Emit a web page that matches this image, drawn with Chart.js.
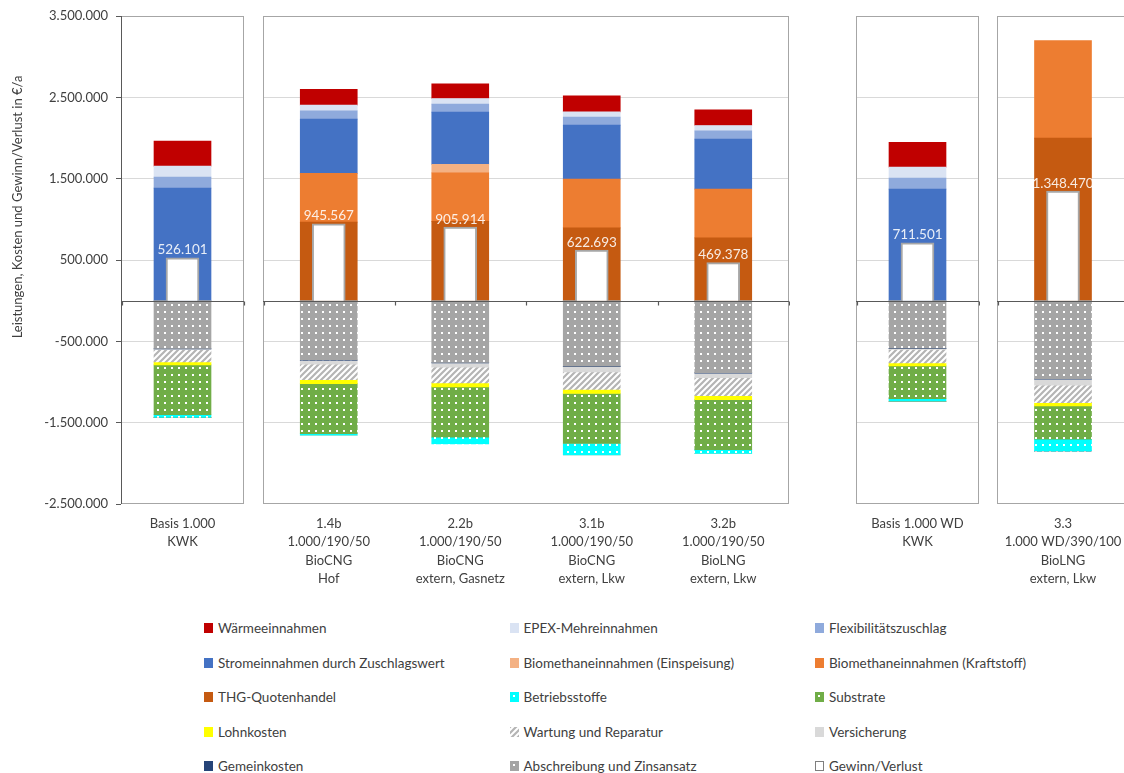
<!DOCTYPE html>
<html lang="de">
<head>
<meta charset="utf-8">
<title>Leistungen, Kosten und Gewinn/Verlust</title>
<script src="https://cdn.jsdelivr.net/npm/chart.js@4.4.1/dist/chart.umd.min.js"></script>
<style>
  html, body { margin: 0; padding: 0; background: #fff; overflow: hidden; width: 1124px; height: 773px; position: relative; }
  canvas.panel { position: absolute; top: 0; }
  .item { position: absolute; display: flex; align-items: center; white-space: nowrap;
          font: 13.5px Lato, sans-serif; color: #404040; height: 16px; }
  .item canvas { margin-right: 5px; }
</style>
</head>
<body>
<canvas id="p0" class="panel" width="246" height="610" style="left:0px"></canvas>
<canvas id="p1" class="panel" width="527" height="610" style="left:263px"></canvas>
<canvas id="p2" class="panel" width="124" height="610" style="left:856px"></canvas>
<canvas id="p3" class="panel" width="133" height="610" style="left:997px"></canvas>
<div id="legend"></div>
<script>
// Szenarien
const categories = [
    ['Basis 1.000', 'KWK'],
    ['1.4b', '1.000/190/50', 'BioCNG', 'Hof'],
    ['2.2b', '1.000/190/50', 'BioCNG', 'extern, Gasnetz'],
    ['3.1b', '1.000/190/50', 'BioCNG', 'extern, Lkw'],
    ['3.2b', '1.000/190/50', 'BioLNG', 'extern, Lkw'],
    ['Basis 1.000 WD', 'KWK'],
    ['3.3', '1.000 WD/390/100', 'BioLNG', 'extern, Lkw']
];
// welche Szenarien in welchem Feld stehen
const groups = [[0], [1, 2, 3, 4], [5], [6]];

const yTicks = [-2500000, -1500000, -500000, 500000, 1500000, 2500000, 3500000];

// Leistungen (€/a)
const waerme       = [307000, 193000, 180000, 197000, 192000, 307000, 0];
const epex         = [135000, 70000, 70000, 66000, 66000, 135000, 0];
const flex         = [135000, 102000, 98000, 98000, 102000, 135000, 0];
const strom        = [1384000, 668000, 643000, 664000, 615000, 1371000, 0];
const bioEinspeis  = [0, 0, 103000, 0, 0, 0, 0];
const bioKraft     = [0, 599000, 598000, 599000, 599000, 0, 1198000];
const thg          = [0, 966000, 974000, 895000, 772000, 0, 1999000];

// Kosten (€/a)
const abschreibung = [-588000, -730000, -760000, -805000, -885000, -585000, -960000];
const gemeinkosten = [-5000, -5000, -5000, -5000, -5000, -5000, -5000];
const versicherung = [-10000, -45000, -53000, -65000, -57000, -10000, -75000];
const wartung      = [-150000, -190000, -193000, -217000, -221000, -165000, -213000];
const lohn         = [-37000, -49000, -49000, -49000, -49000, -37000, -41000];
const substrate    = [-612000, -615000, -618000, -615000, -615000, -402000, -410000];
const betrieb      = [-33000, -20000, -82000, -140000, -45000, -33000, -145000];

// Gewinn/Verlust
const gewinn = [526101, 945567, 905914, 622693, 469378, 711501, 1348470];

const legendOrder = [
    'Wärmeeinnahmen', 'EPEX-Mehreinnahmen', 'Flexibilitätszuschlag',
    'Stromeinnahmen durch Zuschlagswert', 'Biomethaneinnahmen (Einspeisung)', 'Biomethaneinnahmen (Kraftstoff)',
    'THG-Quotenhandel', 'Betriebsstoffe', 'Substrate',
    'Lohnkosten', 'Wartung und Reparatur', 'Versicherung',
    'Gemeinkosten', 'Abschreibung und Zinsansatz', 'Gewinn/Verlust'
];

const FONT = 'Lato';
const TEXT = '#404040';

// Muster
function dotTile(base) {
    const t = document.createElement('canvas');
    t.width = 7; t.height = 7;
    const c = t.getContext('2d');
    c.fillStyle = base; c.fillRect(0, 0, 7, 7);
    c.fillStyle = '#ffffff'; c.fillRect(3, 3, 2, 2);
    return t;
}
function hatchTile() {
    const t = document.createElement('canvas');
    t.width = 6; t.height = 6;
    const c = t.getContext('2d');
    c.fillStyle = '#ffffff'; c.fillRect(0, 0, 6, 6);
    c.strokeStyle = '#b4b4b4'; c.lineWidth = 2.2;
    c.beginPath();
    c.moveTo(0, 6); c.lineTo(6, 0);
    c.moveTo(-1, 1); c.lineTo(1, -1);
    c.moveTo(5, 7); c.lineTo(7, 5);
    c.stroke();
    return t;
}
function paint(fill) {
    if (typeof fill === 'string') return fill;
    return ctx => ctx.chart.ctx.createPattern(fill, 'repeat');
}

// Stapelreihenfolge: Kosten von 0 nach unten, Leistungen von 0 nach oben
const series = [
    { label: 'Abschreibung und Zinsansatz', data: abschreibung, fill: dotTile('#a5a5a5') },
    { label: 'Gemeinkosten', data: gemeinkosten, fill: '#264478' },
    { label: 'Versicherung', data: versicherung, fill: '#d9d9d9' },
    { label: 'Wartung und Reparatur', data: wartung, fill: hatchTile() },
    { label: 'Lohnkosten', data: lohn, fill: '#ffff00' },
    { label: 'Substrate', data: substrate, fill: dotTile('#70ad47') },
    { label: 'Betriebsstoffe', data: betrieb, fill: dotTile('#00ffff') },
    { label: 'THG-Quotenhandel', data: thg, fill: '#c55a11' },
    { label: 'Biomethaneinnahmen (Kraftstoff)', data: bioKraft, fill: '#ed7d31' },
    { label: 'Biomethaneinnahmen (Einspeisung)', data: bioEinspeis, fill: '#f4b183' },
    { label: 'Stromeinnahmen durch Zuschlagswert', data: strom, fill: '#4472c4' },
    { label: 'Flexibilitätszuschlag', data: flex, fill: '#8faadc' },
    { label: 'EPEX-Mehreinnahmen', data: epex, fill: '#dae3f3' },
    { label: 'Wärmeeinnahmen', data: waerme, fill: '#c00000' }
];

const fmt = v => String(v).replace(/\B(?=(\d{3})+(?!\d))/g, '.');

const framePlugin = {
    id: 'frame',
    beforeDatasetsDraw(chart, args, opts) {
        const { ctx, chartArea: a } = chart;
        ctx.save();
        ctx.strokeStyle = '#a6a6a6';
        ctx.lineWidth = 1;
        ctx.strokeRect(Math.round(a.left) + 0.5, Math.round(a.top) + 0.5,
            Math.round(a.right - a.left) - 1, Math.round(a.bottom - a.top) - 1);
        if (opts.axis) {
            ctx.strokeStyle = '#595959';
            ctx.beginPath();
            ctx.moveTo(Math.round(a.left) + 0.5, a.top);
            ctx.lineTo(Math.round(a.left) + 0.5, a.bottom);
            ctx.stroke();
        }
        ctx.restore();
    },
    afterDatasetsDraw(chart, args, opts) {
        const { ctx, chartArea: a, scales } = chart;
        const y0 = Math.round(scales.y.getPixelForValue(0)) + 0.5;
        const x = scales.x;
        const n = x.ticks.length;
        ctx.save();
        ctx.strokeStyle = '#595959';
        ctx.lineWidth = 1.2;
        ctx.beginPath();
        ctx.moveTo(a.left, y0);
        ctx.lineTo(a.right, y0);
        for (let i = 0; i <= n; i++) {
            let px;
            if (i === 0) px = a.left + 0.5;
            else if (i === n) px = a.right - 0.5;
            else px = (x.getPixelForTick(i - 1) + x.getPixelForTick(i)) / 2;
            px = Math.round(px) + 0.5;
            ctx.moveTo(px, y0);
            ctx.lineTo(px, y0 + 4);
        }
        ctx.stroke();

        // Beschriftung Gewinn/Verlust
        const idx = chart.data.datasets.findIndex(d => d.stack === 'gv');
        const meta = chart.getDatasetMeta(idx);
        ctx.fillStyle = 'rgba(255,255,255,0.88)';
        ctx.font = '13.5px ' + FONT;
        ctx.textAlign = 'center';
        ctx.textBaseline = 'bottom';
        meta.data.forEach((bar, i) => {
            ctx.fillText(fmt(chart.data.datasets[idx].data[i]), bar.x, bar.y - 1);
        });
        ctx.restore();
    },
    afterDraw(chart, args, opts) {
        if (!opts.axis) return;
        const ctx = chart.ctx;
        ctx.save();
        ctx.translate(18, 207);
        ctx.rotate(-Math.PI / 2);
        ctx.fillStyle = TEXT;
        ctx.font = '13px ' + FONT;
        ctx.textAlign = 'center';
        ctx.textBaseline = 'middle';
        ctx.fillText('Leistungen, Kosten und Gewinn/Verlust in €/a', 0, 0);
        ctx.restore();
    }
};

function makeDatasets(idx) {
    const sets = series.map(s => ({
        label: s.label,
        data: idx.map(i => s.data[i]),
        backgroundColor: paint(s.fill),
        borderWidth: 0,
        barThickness: 57,
        order: 1
    }));
    sets.push({
        label: 'Gewinn/Verlust',
        data: idx.map(i => gewinn[i]),
        stack: 'gv',
        grouped: false,
        backgroundColor: '#ffffff',
        borderColor: '#a6a6a6',
        borderWidth: 2,
        barThickness: 33,
        order: 0
    });
    return sets;
}

const yMin = yTicks[0];
const yMax = yTicks[yTicks.length - 1];

const panelPadRight = [2, 1, 1, 1];

groups.forEach((idx, p) => {
    const withAxis = p === 0;
    new Chart(document.getElementById('p' + p), {
        type: 'bar',
        data: {
            labels: idx.map(i => categories[i]),
            datasets: makeDatasets(idx)
        },
        plugins: [framePlugin],
        options: {
            responsive: false,
            animation: false,
            events: [],
            layout: { padding: { top: 16, left: 0, right: panelPadRight[p], bottom: 0 } },
            plugins: {
                legend: { display: false },
                tooltip: { enabled: false },
                frame: { axis: withAxis }
            },
            scales: {
                x: {
                    stacked: true,
                    grid: { display: false },
                    border: { display: false },
                    afterFit: s => { s.height = 106; s.paddingLeft = 0; s.paddingRight = 0; },
                    ticks: {
                        color: TEXT,
                        padding: 3,
                        maxRotation: 0,
                        autoSkip: false,
                        font: { family: FONT, size: 13, lineHeight: 1.4 }
                    }
                },
                y: {
                    stacked: true,
                    min: yMin,
                    max: yMax,
                    afterBuildTicks: s => { s.ticks = yTicks.map(v => ({ value: v })); },
                    afterFit: s => { s.width = withAxis ? 121 : 0; },
                    border: { display: false },
                    grid: {
                        color: c => (c.tick && (c.tick.value === yMin || c.tick.value === yMax)) ? 'rgba(0,0,0,0)' : '#d9d9d9',
                        tickColor: '#595959',
                        tickLength: 5,
                        drawTicks: withAxis
                    },
                    ticks: {
                        display: withAxis,
                        padding: 8,
                        color: TEXT,
                        font: { family: FONT, size: 13 },
                        callback: v => fmt(v)
                    }
                }
            }
        }
    });
});

// Legende
const legend = document.getElementById('legend');
legendOrder.forEach((label, k) => {
    const col = k % 3;
    const row = Math.floor(k / 3);
    const item = document.createElement('div');
    item.className = 'item';
    item.style.left = (204 + col * 305.5) + 'px';
    item.style.top = (620 + row * 34.6) + 'px';
    const sw = document.createElement('canvas');
    sw.width = 9; sw.height = 10;
    const c = sw.getContext('2d');
    if (label === 'Gewinn/Verlust') {
        c.fillStyle = '#fff'; c.fillRect(0, 0, 9, 10);
        c.strokeStyle = '#7f7f7f'; c.strokeRect(0.5, 0.5, 8, 9);
    } else {
        const s = series.find(d => d.label === label);
        c.fillStyle = typeof s.fill === 'string' ? s.fill : c.createPattern(s.fill, 'repeat');
        c.fillRect(0, 0, 9, 10);
    }
    item.appendChild(sw);
    item.appendChild(document.createTextNode(label));
    legend.appendChild(item);
});
</script>
</body>
</html>
